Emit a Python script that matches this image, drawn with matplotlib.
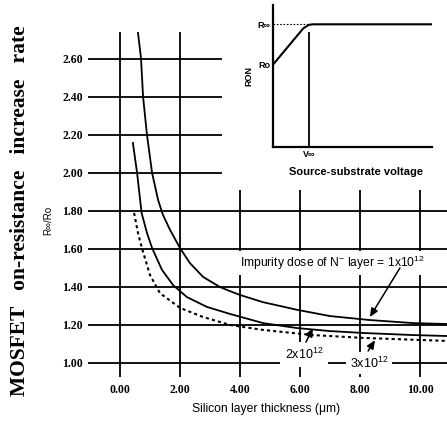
import matplotlib
matplotlib.use("Agg")
import matplotlib.pyplot as plt

plt.rcParams.update({
    "font.family": ["Liberation Sans", "DejaVu Sans"],
    "mathtext.fontset": "custom",
    "mathtext.rm": "Liberation Sans",
    "mathtext.it": "Liberation Sans",
    "mathtext.bf": "Liberation Sans:bold",
})

# silicon layer thickness (um) vs R_inf/R_0, one curve per N- layer dose
x_1e12 = [0.6, 0.7, 0.77, 0.9, 1.07, 1.27, 1.43, 1.67, 2.0, 2.33, 2.77, 3.33,
          3.67, 4.0, 4.77, 5.9, 7.0, 8.33, 9.77, 10.9]
y_1e12 = [2.737, 2.605, 2.40, 2.20, 2.00, 1.858, 1.78, 1.70, 1.605, 1.526, 1.453,
          1.40, 1.378, 1.358, 1.32, 1.28, 1.247, 1.226, 1.21, 1.205]
x_2e12 = [0.43, 0.57, 0.72, 0.9, 1.07, 1.4, 1.77, 2.23, 2.9, 3.67, 4.77, 5.9,
          7.0, 8.1, 9.77, 10.9]
y_2e12 = [2.158, 2.0, 1.79, 1.684, 1.605, 1.49, 1.41, 1.347, 1.295, 1.258, 1.21,
          1.184, 1.168, 1.158, 1.147, 1.142]
x_3e12 = [0.47, 0.6, 0.73, 1.0, 1.33, 2.0, 2.77, 3.67, 4.77, 6.43, 8.1, 10.9]
y_3e12 = [1.79, 1.684, 1.605, 1.463, 1.368, 1.29, 1.242, 1.2, 1.174, 1.147,
          1.132, 1.116]

xticks = [0, 2, 4, 6, 8, 10]
yticks = [1.0, 1.2, 1.4, 1.6, 1.8, 2.0, 2.2, 2.4, 2.6]

# inset: R_ON vs source-substrate voltage (schematic)
inset_x = [0.0, 0.19, 0.225, 0.25, 1.0]
inset_y = [0.58, 0.835, 0.86, 0.864, 0.864]
v_inf, r_inf, r_0 = 0.225, 0.864, 0.58

W, H = 447, 425


def px_rect(l, t, r, b):
    return [l / W, 1 - b / H, (r - l) / W, (b - t) / H]


fig = plt.figure(figsize=(W / 100, H / 100), dpi=100)
ax = fig.add_axes(px_rect(86, 28, 447, 380))
ax.set_xlim(-1.133, 10.9)
ax.set_ylim(0.9105, 2.763)
for s in ax.spines.values():
    s.set_visible(False)

lw = 1.3
# hand-drawn style grid: upper lines stop short of the inset
ax.hlines(yticks[5:], -1.07, 3.4, color="black", lw=lw, zorder=1)
ax.hlines(yticks[:5], -1.07, 11.5, color="black", lw=lw, zorder=1)
ax.vlines(xticks[:2], 0.926, 2.74, color="black", lw=lw, zorder=1)
ax.vlines(xticks[2:], 0.926, 1.91, color="black", lw=lw, zorder=1)

ax.plot(x_1e12, y_1e12, color="black", lw=1.3, zorder=3)
ax.plot(x_2e12, y_2e12, color="black", lw=1.3, zorder=3)
ax.plot(x_3e12, y_3e12, color="black", lw=1.5, ls=(0, (1.5, 1.5)), zorder=3)

ax.set_xticks(xticks, [f"{v:.2f}" for v in xticks])
ax.set_yticks(yticks, [f"{v:.2f}" for v in yticks])
ax.tick_params(length=0)
ax.tick_params(axis="x", pad=3.0)
ax.tick_params(axis="y", pad=2.2)
for lab in ax.get_xticklabels() + ax.get_yticklabels():
    lab.set_fontfamily("Liberation Serif")
    lab.set_fontweight("bold")
    lab.set_fontsize(8.5)

ax.set_xlabel("Silicon layer thickness (\u03bcm)", fontsize=8.7, labelpad=5)

wbox = dict(boxstyle="square,pad=0.25", fc="white", ec="none")
ax.text(7.07, 1.525, "Impurity dose of N$^{-}$ layer = 1x10$^{12}$",
        fontsize=8.7, ha="center", va="center", bbox=wbox, zorder=4)
ax.text(6.13, 1.045, "2x10$^{12}$", fontsize=9, ha="center", va="center",
        bbox=dict(boxstyle="square,pad=0.4", fc="white", ec="none"), zorder=4)
ax.text(8.3, 1.0, "3x10$^{12}$", fontsize=9, ha="center", va="center",
        bbox=dict(boxstyle="square,pad=0.3", fc="white", ec="none"), zorder=4)

arw = dict(arrowstyle="-|>,head_length=0.5,head_width=0.22", color="black",
           lw=1.1, shrinkA=0, shrinkB=0)
ax.annotate("", xy=(8.33, 1.242), xytext=(9.33, 1.5), arrowprops=arw, zorder=5)
ax.annotate("", xy=(6.43, 1.184), xytext=(6.2, 1.11), arrowprops=arw, zorder=5)
ax.annotate("", xy=(8.5, 1.12), xytext=(8.27, 1.063), arrowprops=arw, zorder=5)

fig.text(20 / W, 1 - 211 / H, "MOSFET   on-resistance   increase   rate",
         family="Liberation Serif", weight="bold", fontsize=15.5,
         rotation=90, ha="center", va="center")
fig.text(48 / W, 1 - 220 / H, "R\u221e/Ro", fontsize=7, rotation=90,
         ha="center", va="center")

# inset
ins = fig.add_axes(px_rect(273, 5, 432, 147))
ins.set_xlim(0, 1)
ins.set_ylim(0, 1)
for k in ("top", "right"):
    ins.spines[k].set_visible(False)
for k in ("left", "bottom"):
    ins.spines[k].set_linewidth(1.6)
ins.plot(inset_x, inset_y, color="black", lw=1.5)
ins.plot([0, v_inf], [r_inf, r_inf], color="black", lw=0.8, ls=(0, (1.5, 1.5)))
ins.vlines(v_inf, 0, 0.81, color="black", lw=1.3)
ins.set_xticks([v_inf], ["V\u221e"])
ins.set_yticks([r_0, r_inf], ["Ro", "R\u221e"])
ins.tick_params(length=0, labelsize=6.5, pad=2)
for lab in ins.get_xticklabels() + ins.get_yticklabels():
    lab.set_fontweight("bold")
ins.set_ylabel("RON", fontsize=6.5, fontweight="bold", labelpad=3)

fig.text(356 / W, 1 - 172 / H, "Source-substrate voltage", fontsize=8,
         fontweight="bold", ha="center", va="center")

fig.savefig("out.png", dpi=100)
